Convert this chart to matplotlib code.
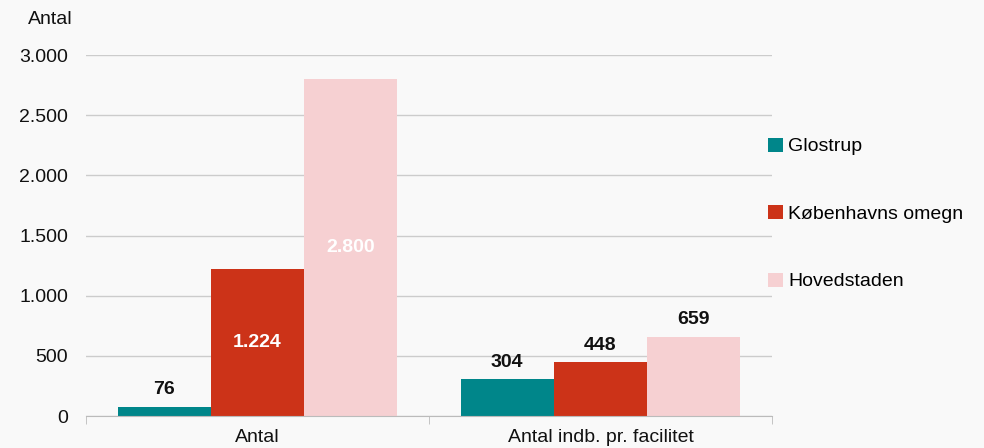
import numpy as np
import matplotlib
matplotlib.use('Agg')
import matplotlib.pyplot as plt
from matplotlib.ticker import FuncFormatter, FixedLocator

plt.rcParams['font.family'] = ['Liberation Sans', 'DejaVu Sans']

categories = ['Antal', 'Antal indb. pr. facilitet']
series = ['Glostrup', 'Københavns omegn', 'Hovedstaden']
glostrup = [76, 304]
kbh_omegn = [1224, 448]
hovedstaden = [2800, 659]
colors = ['#00868a', '#cc3318', '#f6d0d2']
# label inside bar (white) or above (black)
inside = [[False, True, True], [False, False, False]]

def dk(v):
    return f'{int(v):,}'.replace(',', '.')

fig = plt.figure(figsize=(9.84, 4.48), dpi=100)
bg = '#f9f9f9'
fig.patch.set_facecolor(bg)
ax = fig.add_axes([86/984, 1-416/448, (772-86)/984, (416-55)/448])
ax.set_facecolor(bg)

x = np.arange(len(categories))
w = 0.272
data = [glostrup, kbh_omegn, hovedstaden]
for i, (vals, name, c) in enumerate(zip(data, series, colors)):
    pos = x + (i - 1) * w
    ax.bar(pos, vals, width=w, color=c, label=name, zorder=2)
    for j, v in enumerate(vals):
        if inside[j][i]:
            ax.text(pos[j], v / 2, dk(v), ha='center', va='center',
                    color='white', fontsize=14, fontweight='bold', zorder=3)
        else:
            ax.text(pos[j], v + 70, dk(v), ha='center', va='bottom',
                    color='#111111', fontsize=14, fontweight='bold', zorder=3)

ax.set_xlim(-0.5, 1.5)
ax.set_ylim(0, 3000)
ax.set_yticks(np.arange(0, 3001, 500))
ax.yaxis.set_major_formatter(FuncFormatter(lambda v, p: dk(v)))
ax.grid(axis='y', color='#cccccc', linewidth=1, zorder=0)
ax.set_axisbelow(True)

ax.set_xticks(x)
ax.set_xticklabels(categories)
ax.xaxis.set_minor_locator(FixedLocator([-0.5, 0.5, 1.5]))
ax.tick_params(axis='x', which='major', length=0, pad=9, labelsize=14, labelcolor='#111111')
ax.tick_params(axis='x', which='minor', length=6, color='#bbbbbb', direction='out')
ax.tick_params(axis='y', length=0, pad=13, labelsize=14, labelcolor='#111111')

for s in ['top', 'right', 'left']:
    ax.spines[s].set_visible(False)
ax.spines['bottom'].set_color('#bbbbbb')

fig.text(50/984, 1-20/448, 'Antal', ha='center', va='center', fontsize=14, color='#111111')

ax.legend(loc='center left', bbox_to_anchor=(768/984, 1-214/448),
          bbox_transform=fig.transFigure, frameon=False,
          handlelength=0.75, handleheight=0.75, handletextpad=0.3,
          labelspacing=2.55, fontsize=14, borderaxespad=0, borderpad=0)

fig.savefig('out.png', dpi=100, facecolor=bg)
